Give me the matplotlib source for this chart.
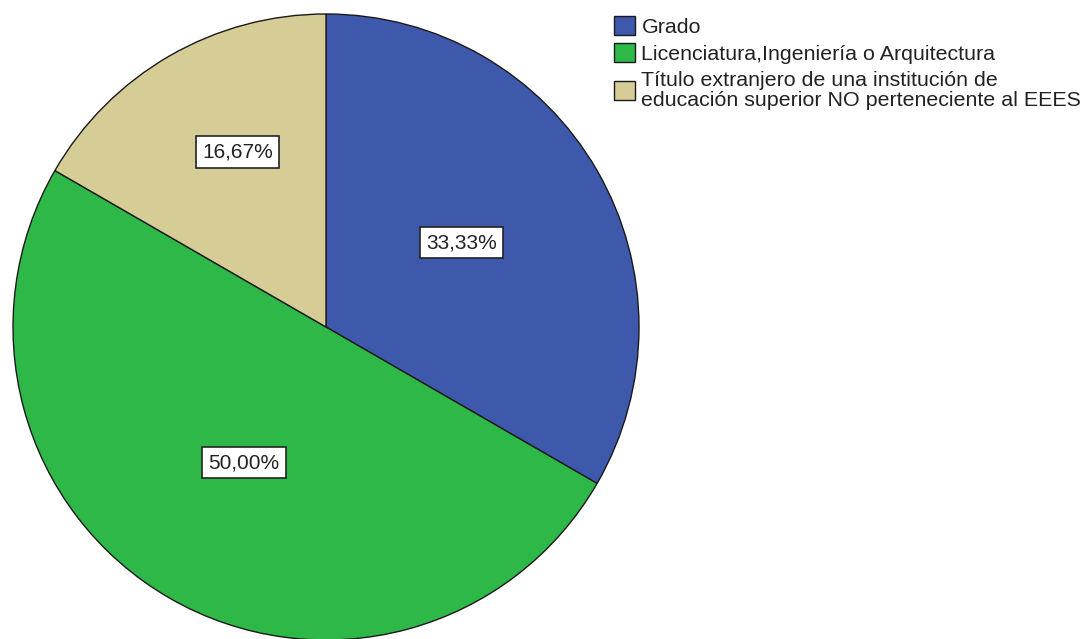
import matplotlib
matplotlib.use('Agg')
import matplotlib.pyplot as plt
import numpy as np

plt.rcParams['font.family'] = ['Liberation Sans', 'DejaVu Sans']

categories = ['Grado',
              'Licenciatura,Ingeniería o Arquitectura',
              'Título extranjero de una institución de\neducación superior NO perteneciente al EEES']
values = [33.33, 50.00, 16.67]
pct_labels = ['33,33%', '50,00%', '16,67%']
colors = ['#3E58AC', '#2EB848', '#D5CC96']
label_dist = [0.50, 0.50, 0.63]          # how far from the centre each box sits
label_nudge = [(0, 6), (-4, 0), (10, 4)]  # small pixel tweaks to match the original

fig = plt.figure(figsize=(10.83, 6.39), dpi=100)
# pie centre at (326, 327) px from top-left, radius 313 px
R = 313
ax = fig.add_axes([(326 - R)/1083, (639 - 327 - R)/639, 2*R/1083, 2*R/639])

wedges, _ = ax.pie(values, colors=colors, startangle=90, counterclock=False,
                   radius=1, wedgeprops=dict(edgecolor='#1a1a1a', linewidth=1.0))

for w, lab, d, nd in zip(wedges, pct_labels, label_dist, label_nudge):
    ang = np.deg2rad((w.theta1 + w.theta2) / 2)
    ax.annotate(lab, (d*np.cos(ang), d*np.sin(ang)), xytext=nd, textcoords='offset pixels',
                ha='center', va='center', fontsize=15, color='#222222',
                bbox=dict(boxstyle='square,pad=0.3', facecolor='white', edgecolor='#222222', linewidth=1.2))

ax.set_xlim(-1, 1)
ax.set_ylim(-1, 1)
ax.set_aspect('equal')
ax.axis('off')

leg = fig.legend(wedges, categories, loc='upper left', bbox_to_anchor=(614/1083, 1 - 16/639),
                 frameon=False, fontsize=15.4, handlelength=1.0, handleheight=1.0,
                 handletextpad=0.28, labelspacing=0.3, borderaxespad=0, borderpad=0)
for t in leg.get_texts():
    t.set_linespacing(1.12)
    t.set_color('#222222')

fig.savefig('out.png', dpi=100)
